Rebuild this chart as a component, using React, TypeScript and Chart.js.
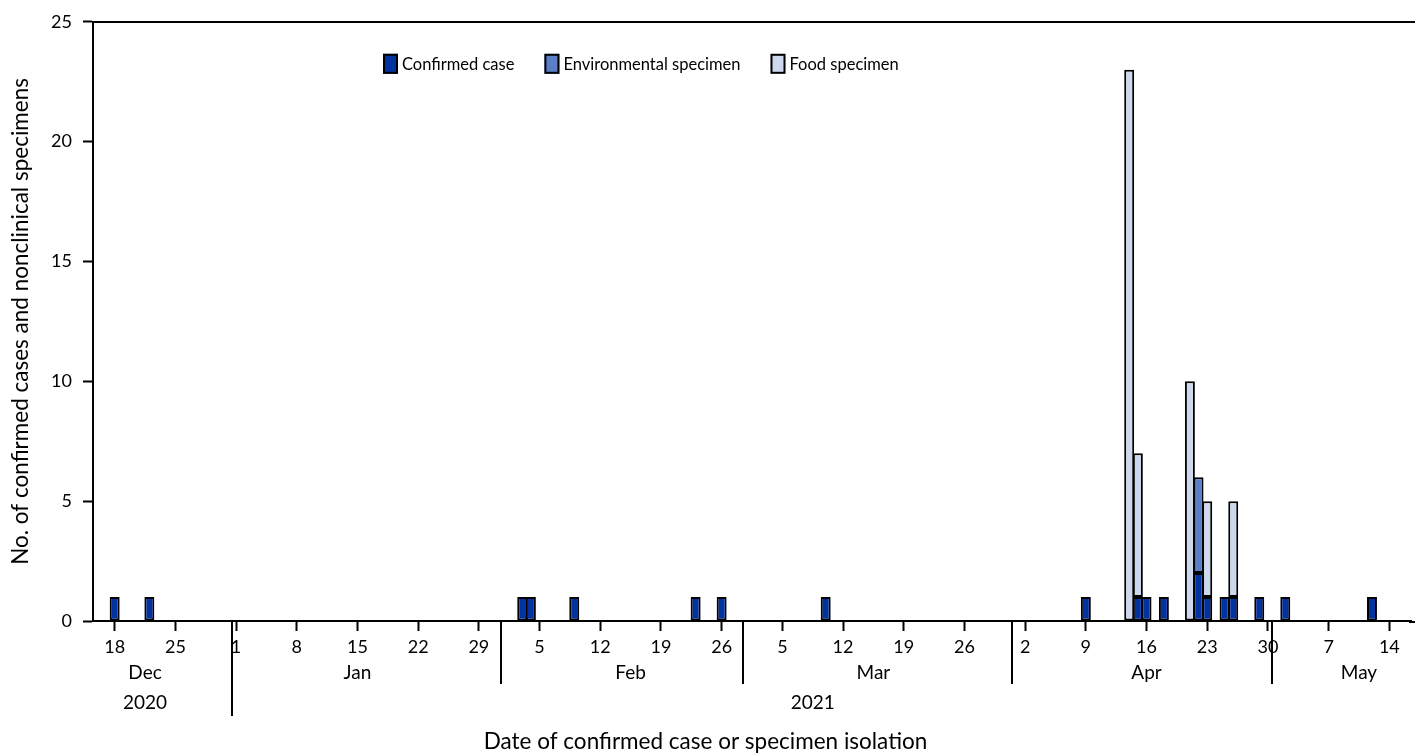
import React, { useEffect, useRef } from 'react';
import { Chart, registerables } from 'chart.js';

Chart.register(...registerables);

// ---------- data ----------
const firstDay = '2020-12-16';
const lastDay = '2021-05-16';

const confirmedCaseDates = [
  '2020-12-18', '2020-12-22', '2021-02-03', '2021-02-04', '2021-02-09', '2021-02-23',
  '2021-02-26', '2021-03-10', '2021-04-09', '2021-04-15', '2021-04-16', '2021-04-18',
  '2021-04-22', '2021-04-23', '2021-04-25', '2021-04-26', '2021-04-29', '2021-05-02',
  '2021-05-12',
];
const confirmedCaseCounts = [1, 1, 1, 1, 1, 1, 1, 1, 1, 1, 1, 1, 2, 1, 1, 1, 1, 1, 1];

const environmentalDates = ['2021-04-22'];
const environmentalCounts = [4];

const foodDates = ['2021-04-14', '2021-04-15', '2021-04-21', '2021-04-23', '2021-04-26'];
const foodCounts = [23, 6, 10, 4, 4];

const weekTickDates = [
  '2020-12-18', '2020-12-25', '2021-01-01', '2021-01-08', '2021-01-15', '2021-01-22',
  '2021-01-29', '2021-02-05', '2021-02-12', '2021-02-19', '2021-02-26', '2021-03-05',
  '2021-03-12', '2021-03-19', '2021-03-26', '2021-04-02', '2021-04-09', '2021-04-16',
  '2021-04-23', '2021-04-30', '2021-05-07', '2021-05-14',
];

const monthNames = ['Jan', 'Feb', 'Mar', 'Apr', 'May', 'Jun', 'Jul', 'Aug', 'Sep', 'Oct', 'Nov', 'Dec'];

const seriesLabels = ['Confirmed case', 'Environmental specimen', 'Food specimen'];
const seriesColors = ['#0033a0', '#5b7fc7', '#cdd8ee'];

const yMin = 0;
const yMax = 25;
const yStep = 5;

const yTitle = 'No. of confirmed cases and nonclinical specimens';
const xTitle = 'Date of confirmed case or specimen isolation';

// ---------- helpers ----------
const FONT = 'Lato, "Open Sans", sans-serif';
const TITLE_SIZE = 22.5;

function buildDays(a: string, b: string): string[] {
  const out: string[] = [];
  let t = Date.parse(a + 'T00:00:00Z');
  const end = Date.parse(b + 'T00:00:00Z');
  while (t <= end) {
    out.push(new Date(t).toISOString().slice(0, 10));
    t += 86400000;
  }
  return out;
}

function toSeries(days: string[], dates: string[], counts: number[]): (number | null)[] {
  const m = new Map<string, number>();
  dates.forEach((d, i) => m.set(d, counts[i]));
  return days.map((d) => (m.has(d) ? (m.get(d) as number) : null));
}

const days = buildDays(firstDay, lastDay);
const tickSet = new Set(weekTickDates);
const tickLabels = days.map((d) => (tickSet.has(d) ? String(Number(d.slice(8, 10))) : ''));

const overlayPlugin = {
  id: 'overlay',
  afterDraw(chart: any) {
    const ctx: CanvasRenderingContext2D = chart.ctx;
    const area = chart.chartArea;
    const xs = chart.scales.x;
    const W = chart.width;
    ctx.save();
    ctx.strokeStyle = '#000';
    ctx.lineWidth = 2;
    ctx.lineCap = 'butt';

    // top frame line and baseline extension to the right edge
    ctx.beginPath();
    ctx.moveTo(area.left, Math.round(area.top));
    ctx.lineTo(W, Math.round(area.top));
    ctx.stroke();
    ctx.beginPath();
    ctx.moveTo(area.right - 2, Math.round(area.bottom) + 1);
    ctx.lineTo(W, Math.round(area.bottom) + 1);
    ctx.stroke();

    // month / year separators
    const monthSepBottom = area.bottom + 63;
    const yearSepBottom = area.bottom + 95;
    days.forEach((d, i) => {
      if (i === 0 || d.slice(8, 10) !== '01') return;
      const x = Math.round((xs.getPixelForValue(i - 1) + xs.getPixelForValue(i)) / 2);
      const isYear = d.slice(5, 7) === '01';
      ctx.beginPath();
      ctx.moveTo(x, area.bottom);
      ctx.lineTo(x, isYear ? yearSepBottom : monthSepBottom);
      ctx.stroke();
    });

    // month labels
    ctx.fillStyle = '#000';
    ctx.textAlign = 'center';
    ctx.textBaseline = 'middle';
    ctx.font = `19px ${FONT}`;
    const groups = (keyLen: number) => {
      const g: { key: string; idx: number[] }[] = [];
      days.forEach((d, i) => {
        if (!tickSet.has(d)) return;
        const k = d.slice(0, keyLen);
        if (!g.length || g[g.length - 1].key !== k) g.push({ key: k, idx: [] });
        g[g.length - 1].idx.push(i);
      });
      return g;
    };
    groups(7).forEach((g) => {
      const x = (xs.getPixelForValue(g.idx[0]) + xs.getPixelForValue(g.idx[g.idx.length - 1])) / 2;
      ctx.fillText(monthNames[Number(g.key.slice(5, 7)) - 1], x, area.bottom + 52);
    });
    groups(4).forEach((g) => {
      const x = (xs.getPixelForValue(g.idx[0]) + xs.getPixelForValue(g.idx[g.idx.length - 1])) / 2;
      ctx.fillText(g.key, x, area.bottom + 82);
    });

    // legend
    ctx.font = `16.5px ${FONT}`;
    ctx.textAlign = 'left';
    let lx = area.left + 290;
    const cy = area.top + 42;
    chart.data.datasets.forEach((ds: any) => {
      ctx.fillStyle = ds.backgroundColor;
      ctx.fillRect(lx, cy - 10, 15, 20);
      ctx.lineWidth = 2;
      ctx.strokeStyle = '#000';
      ctx.strokeRect(lx + 1, cy - 9, 13, 18);
      ctx.fillStyle = '#000';
      ctx.fillText(ds.label, lx + 19, cy + 1);
      lx += 19 + ctx.measureText(ds.label).width + 30;
    });
    ctx.restore();
  },
};

export default function App() {
  const ref = useRef<HTMLCanvasElement | null>(null);
  useEffect(() => {
    document.body.style.margin = '0';
    const canvas = ref.current;
    if (!canvas) return;
    Chart.defaults.font.family = FONT;
    Chart.defaults.color = '#000';
    const mk = (i: number, data: (number | null)[]) => ({
      label: seriesLabels[i],
      data,
      backgroundColor: seriesColors[i],
      borderColor: '#000',
      borderWidth: 2,
      borderSkipped: false as const,
      barPercentage: 1.15,
      categoryPercentage: 1,
    });
    const chart = new Chart(canvas, {
      type: 'bar',
      data: {
        labels: days,
        datasets: [
          mk(0, toSeries(days, confirmedCaseDates, confirmedCaseCounts)),
          mk(1, toSeries(days, environmentalDates, environmentalCounts)),
          mk(2, toSeries(days, foodDates, foodCounts)),
        ],
      },
      options: {
        animation: false,
        responsive: false,
        maintainAspectRatio: false,
        layout: { padding: { top: 20, right: 4, left: 0, bottom: 0 } },
        plugins: {
          legend: { display: false },
          tooltip: { enabled: false },
          title: {
            display: true,
            position: 'bottom',
            text: xTitle,
            color: '#000',
            font: { family: FONT, size: TITLE_SIZE, weight: 'normal', lineHeight: 1 },
            padding: { top: 0, bottom: 0 },
          },
        },
        scales: {
          x: {
            stacked: true,
            offset: true,
            grid: {
              offset: false,
              drawOnChartArea: false,
              drawTicks: true,
              tickLength: 10,
              tickWidth: 2,
              tickColor: (c: any) => (tickLabels[c.index] ? '#000' : 'rgba(0,0,0,0)'),
            },
            border: { display: true, color: '#000', width: 2 },
            ticks: {
              autoSkip: false,
              maxRotation: 0,
              minRotation: 0,
              padding: 5,
              color: '#000',
              font: { family: FONT, size: 18 },
              callback: (_v: any, i: number) => tickLabels[i],
            },
            afterFit: (s: any) => {
              s.height = 753 - 621 - TITLE_SIZE;
            },
          },
          y: {
            stacked: true,
            min: yMin,
            max: yMax,
            ticks: { stepSize: yStep, padding: 11, color: '#000', font: { family: FONT, size: 18 } },
            grid: { drawOnChartArea: false, drawTicks: true, tickLength: 10, tickWidth: 2, tickColor: '#000' },
            border: { display: true, color: '#000', width: 2 },
            title: {
              display: true,
              text: yTitle,
              color: '#000',
              font: { family: FONT, size: TITLE_SIZE, weight: 'normal', lineHeight: 1.2 },
              padding: { top: 7, bottom: 0 },
            },
            afterFit: (s: any) => {
              s.width = 93;
            },
          },
        },
      },
      plugins: [overlayPlugin],
    });
    return () => chart.destroy();
  }, []);
  return <canvas ref={ref} width={1415} height={753} style={{ display: 'block' }} />;
}
